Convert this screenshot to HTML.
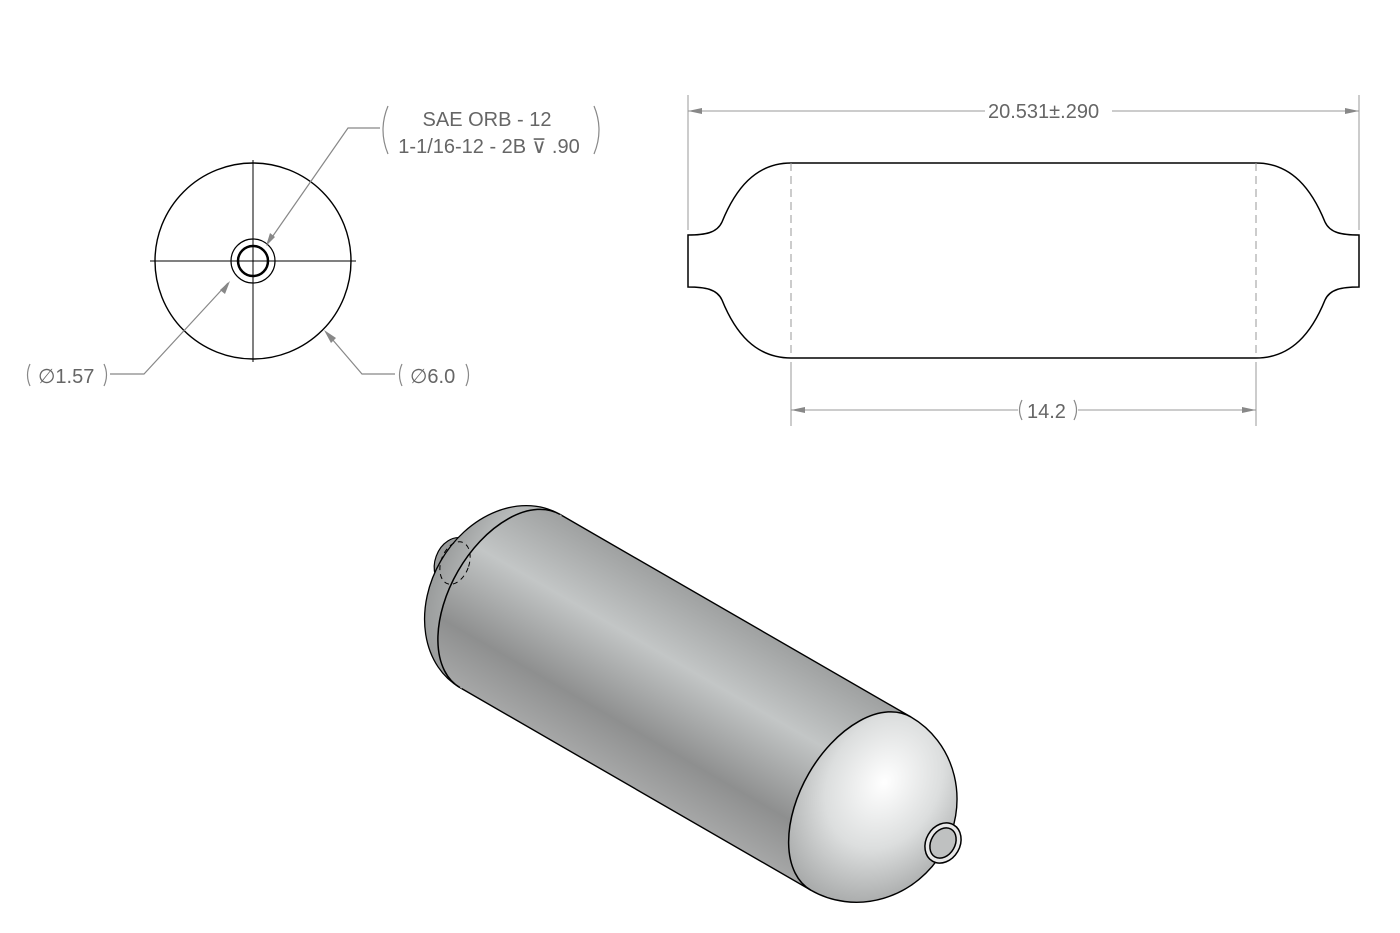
<!DOCTYPE html>
<html><head><meta charset="utf-8"><style>
html,body{margin:0;padding:0;background:#fff;}
svg{display:block;}
text{font-family:"Liberation Sans",sans-serif;fill:#666;font-size:20px;}
</style></head><body>
<svg width="1400" height="933" viewBox="0 0 1400 933" xmlns="http://www.w3.org/2000/svg">
<defs>
<linearGradient id="body" x1="0" y1="0" x2="0" y2="1">
<stop offset="0" stop-color="#9fa1a1"/>
<stop offset="0.35" stop-color="#c3c6c6"/>
<stop offset="0.75" stop-color="#8e8f8f"/>
<stop offset="1" stop-color="#a6a7a7"/>
</linearGradient>
<radialGradient id="dome" cx="0.45" cy="0.35" r="0.7">
<stop offset="0" stop-color="#ffffff"/>
<stop offset="0.5" stop-color="#dcdede"/>
<stop offset="1" stop-color="#a0a2a2"/>
</radialGradient>
<radialGradient id="ldome" cx="0.6" cy="0.3" r="0.8">
<stop offset="0" stop-color="#c5c8c8"/>
<stop offset="1" stop-color="#909292"/>
</radialGradient>
</defs>

<!-- Left view -->
<g stroke="#000" fill="none">
<circle cx="253" cy="261" r="98" stroke-width="1.4"/>
<line x1="150" y1="261" x2="356" y2="261" stroke-width="1"/>
<line x1="253" y1="160" x2="253" y2="362" stroke-width="1"/>
<circle cx="253" cy="261" r="22" stroke-width="1.2"/>
<circle cx="253" cy="261" r="15" stroke-width="2.5"/>
</g>
<g stroke="#888" fill="none" stroke-width="1.2">
<polyline points="380,128 348,128 268,243"/>
<polyline points="110,374 144,374 228,283"/>
<polyline points="395,374 362,374 326,332"/>
<path d="M388,106 Q378,130 388,154"/>
<path d="M594,106 Q604,130 594,154"/>
<path d="M30,364 Q25,375 30,386"/>
<path d="M104,364 Q109,375 104,386"/>
<path d="M402,364 Q397,375 402,386"/>
<path d="M466,364 Q471,375 466,386"/>
<path d="M1022,400 Q1017,410 1022,420"/>
<path d="M1074,400 Q1079,410 1074,420"/>
</g>
<g fill="#888">
<polygon points="266,246 270,233 275,237"/>
<polygon points="230,281 220,290 225,294"/>
<polygon points="324,330 336,338 331,343"/>
</g>
<text x="487" y="126" text-anchor="middle">SAE ORB - 12</text>
<text x="489" y="153" text-anchor="middle">1-1/16-12 - 2B ⊽ .90</text>
<text x="38" y="383">∅1.57</text>
<text x="410" y="383">∅6.0</text>

<!-- Right view -->
<g stroke="#000" fill="none" stroke-width="1.5">
<path d="M688,235 C705,235 717,233 722,222 C735,190 755,163 791,163 L1256,163 C1292,163 1312,190 1325,222 C1330,233 1342,235 1359,235 L1359,287 C1342,287 1330,289 1325,300 C1312,332 1292,358 1256,358 L791,358 C755,358 735,332 722,300 C717,289 705,287 688,287 Z"/>
</g>
<g stroke="#999" stroke-width="1" fill="none">
<line x1="791" y1="163" x2="791" y2="358" stroke-dasharray="8,5"/>
<line x1="1256" y1="163" x2="1256" y2="358" stroke-dasharray="8,5"/>
<line x1="688" y1="95" x2="688" y2="230"/>
<line x1="1359" y1="95" x2="1359" y2="230"/>
<line x1="791" y1="362" x2="791" y2="426"/>
<line x1="1256" y1="362" x2="1256" y2="426"/>
<line x1="688" y1="111" x2="985" y2="111"/>
<line x1="1112" y1="111" x2="1359" y2="111"/>
<line x1="791" y1="410" x2="1018" y2="410"/>
<line x1="1078" y1="410" x2="1256" y2="410"/>
</g>
<g fill="#888">
<polygon points="688,111 702,108 702,114"/>
<polygon points="1359,111 1345,108 1345,114"/>
<polygon points="791,410 805,407 805,413"/>
<polygon points="1256,410 1242,407 1242,413"/>
</g>
<text x="988" y="118">20.531±.290</text>
<text x="1027" y="418">14.2</text>

<!-- 3D view -->
<g>
<ellipse cx="455" cy="563" rx="20" ry="26" transform="rotate(20 455 563)" fill="#9a9c9c" stroke="#000" stroke-width="1.2"/>
<g transform="translate(510,601) rotate(30)">
<path d="M-1,-100 L405,-100 L405,100 L-1,100 Z" fill="url(#body)"/>
<path d="M0,-100 A80,100 0 0 0 0,100 Z" fill="url(#ldome)"/>
<path d="M0,-100 A80,100 0 0 0 0,100" fill="none" stroke="#000" stroke-width="1.3"/>
<path d="M405,-100 A95,100 0 0 1 405,100 A60,100 0 0 1 405,-100 Z" fill="url(#dome)"/>
<path d="M0,-100 L405,-100 A95,100 0 0 1 405,100 L0,100" fill="none" stroke="#000" stroke-width="1.4"/>
<path d="M0,-100 A60,100 0 0 0 0,100 L2,100 L2,-100 Z" fill="url(#body)"/>
<path d="M0,-100 A60,100 0 0 0 0,100" fill="none" stroke="#000" stroke-width="1.5"/>
<path d="M405,-100 A60,100 0 0 0 405,100" fill="none" stroke="#000" stroke-width="1.5"/>
</g>
<ellipse cx="455" cy="563" rx="14" ry="22" transform="rotate(20 455 563)" fill="none" stroke="#000" stroke-dasharray="5,4"/>
<ellipse cx="943" cy="843" rx="17" ry="21" transform="rotate(30 943 843)" fill="#e8e8e8" stroke="#000" stroke-width="1.5"/>
<ellipse cx="943" cy="843" rx="12" ry="16" transform="rotate(30 943 843)" fill="#bfc1c1" stroke="#000" stroke-width="1.5"/>
</g>
</svg>
</body></html>
